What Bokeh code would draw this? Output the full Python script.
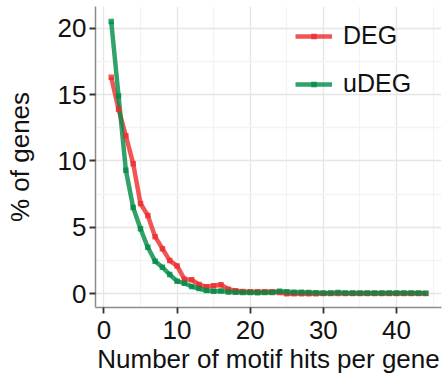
from bokeh.plotting import figure
from bokeh.models import Range1d, SingleIntervalTicker, Legend, LegendItem
from bokeh.embed import file_html
from bokeh.resources import INLINE

hits = list(range(1, 45))
deg = [16.3, 13.9, 11.9, 9.8, 6.8, 5.9, 4.3, 3.4, 2.5, 2.1,
       1.1, 1.05, 0.7, 0.53, 0.6, 0.68, 0.35, 0.23, 0.18, 0.15,
       0.15, 0.15, 0.15, 0.1, 0.0, 0.0, 0.0, 0.0, 0.0, 0.03,
       0.03, 0.03, 0.03, 0.03, 0.03, 0.03, 0.03, 0.03, 0.03, 0.03,
       0.03, 0.03, 0.03, 0.03]
udeg = [20.5, 14.9, 9.3, 6.5, 4.9, 3.5, 2.45, 2.0, 1.45, 0.95,
        0.8, 0.55, 0.4, 0.25, 0.2, 0.22, 0.14, 0.12, 0.1, 0.1,
        0.08, 0.1, 0.1, 0.2, 0.15, 0.12, 0.12, 0.1, 0.08, 0.06,
        0.06, 0.1, 0.07, 0.06, 0.06, 0.06, 0.06, 0.06, 0.06, 0.06,
        0.06, 0.06, 0.06, 0.05]
series_names = ["DEG", "uDEG"]
colors = ["#EE2C2C", "#008B45"]

FONT = "Liberation Sans"

p = figure(width=442, height=377, output_backend="svg", toolbar_location=None,
           x_range=Range1d(-1.15, 46.15), y_range=Range1d(-1.03, 21.63),
           min_border_left=95, min_border_right=1, min_border_top=6,
           min_border_bottom=70)
p.outline_line_color = None
p.background_fill_color = "white"

lines = []
for ys, c in zip([deg, udeg], colors):
    lines.append(p.line(hits, ys, line_color=c, line_width=4.5, line_alpha=0.8))
pts = []
for ys, c in zip([deg, udeg], colors):
    pts.append(p.scatter(hits, ys, marker="square", size=5.5, fill_color=c,
                         line_color=None, fill_alpha=0.8))

p.xaxis.ticker = SingleIntervalTicker(interval=10, num_minor_ticks=2)
p.yaxis.ticker = SingleIntervalTicker(interval=5, num_minor_ticks=2)

p.xgrid.grid_line_color = "#E6E6E6"
p.ygrid.grid_line_color = "#E6E6E6"
p.xgrid.grid_line_width = 1.3
p.ygrid.grid_line_width = 1.3
p.xgrid.minor_grid_line_color = "#F3F3F3"
p.ygrid.minor_grid_line_color = "#F3F3F3"
p.xgrid.minor_grid_line_width = 1.3
p.ygrid.minor_grid_line_width = 1.3

for ax in (p.xaxis, p.yaxis):
    ax.axis_line_color = "#8C8C8C"
    ax.axis_line_width = 1.5
    ax.major_tick_line_color = "#333333"
    ax.major_tick_line_width = 1.8
    ax.major_tick_out = 6
    ax.major_tick_in = 0
    ax.minor_tick_line_color = None
    ax.major_label_text_font = FONT
    ax.major_label_text_font_size = "26px"
    ax.major_label_text_color = "#111111"
    ax.axis_label_text_font = FONT
    ax.axis_label_text_font_size = "26px"
    ax.axis_label_text_font_style = "normal"
    ax.axis_label_text_color = "#111111"

p.xaxis.axis_label = "Number of motif hits per gene"
p.yaxis.axis_label = "% of genes"
p.xaxis.major_label_standoff = 7
p.yaxis.major_label_standoff = 3
p.xaxis.axis_label_standoff = 2
p.yaxis.axis_label_standoff = 20

legend = Legend(items=[LegendItem(label=n, renderers=[l, s])
                       for n, l, s in zip(series_names, lines, pts)],
                location=(200, 209))
legend.padding = 0
legend.spacing = 19
legend.glyph_width = 37
legend.glyph_height = 14
legend.label_height = 14
legend.label_standoff = 11
legend.label_text_font = FONT
legend.label_text_font_size = "25px"
legend.label_text_color = "#111111"
legend.border_line_color = None
legend.background_fill_alpha = 0
p.add_layout(legend)

open("out.html", "w").write(file_html(p, INLINE))
